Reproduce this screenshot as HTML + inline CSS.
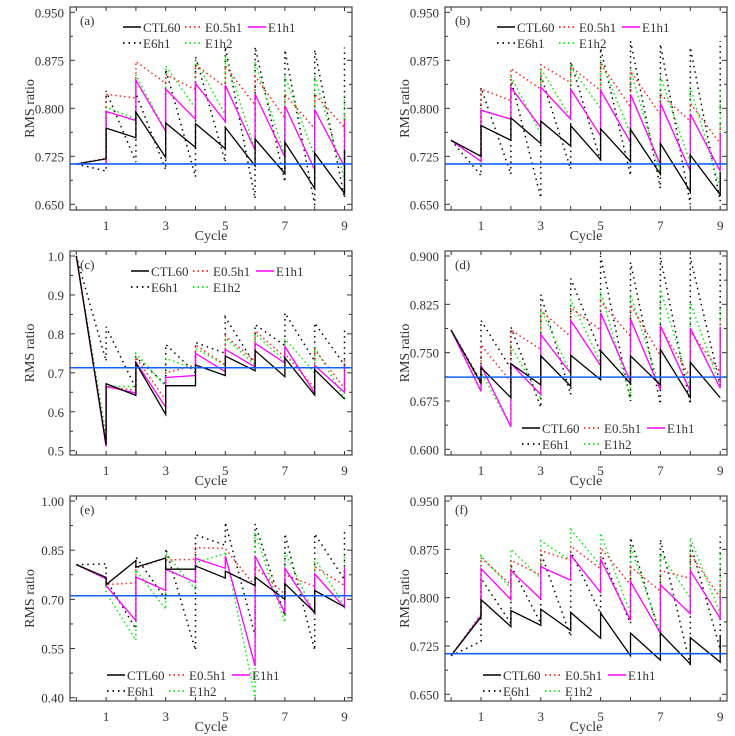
<!DOCTYPE html>
<html><head><meta charset="utf-8"><title>RMS ratio panels</title>
<style>
body{margin:0;background:#fff;}
svg{display:block;font-family:"Liberation Serif",serif;}
text{fill:#333;}
</style></head>
<body>
<svg id="fig" width="735" height="736" viewBox="0 0 735 736"></svg>
<script>
// ---- data (after = value after analysis at cycle k, k=0..9; before = value just before analysis at cycle k+1, k=0..8)
const cycles = [0,1,2,3,4,5,6,7,8,9];
const seriesNames = ["E6h1","E1h2","E0.5h1","E1h1","CTL60"];
const baseline = [0.713,0.713,0.713,0.712,0.711,0.713];

const aCTL60After = [0.713,0.769,0.794,0.777,0.776,0.770,0.752,0.747,0.730,0.735];
const aCTL60Before = [0.721,0.754,0.723,0.739,0.737,0.710,0.698,0.675,0.667];
const aE05After = [0.713,0.822,0.873,0.853,0.868,0.866,0.850,0.822,0.822,0.790];
const aE05Before = [0.722,0.816,0.839,0.829,0.833,0.805,0.785,0.768,0.770];
const aE1h1After = [0.713,0.795,0.844,0.830,0.839,0.836,0.822,0.804,0.798,0.780];
const aE1h1Before = [0.713,0.781,0.764,0.783,0.779,0.735,0.724,0.704,0.709];
const aE1h2After = [0.713,0.802,0.852,0.866,0.875,0.882,0.873,0.850,0.850,0.820];
const aE1h2Before = [0.713,0.783,0.764,0.800,0.790,0.735,0.725,0.725,0.690];
const aE6h1After = [0.713,0.827,0.823,0.861,0.881,0.896,0.896,0.891,0.891,0.895];
const aE6h1Before = [0.702,0.716,0.704,0.693,0.716,0.659,0.685,0.649,0.660];

const bCTL60After = [0.750,0.773,0.785,0.780,0.773,0.768,0.767,0.745,0.727,0.700];
const bCTL60Before = [0.725,0.750,0.745,0.741,0.720,0.717,0.697,0.670,0.665];
const bE05After = [0.750,0.830,0.862,0.868,0.865,0.870,0.858,0.822,0.808,0.780];
const bE05Before = [0.725,0.812,0.830,0.840,0.828,0.802,0.790,0.780,0.745];
const bE1h1After = [0.750,0.797,0.833,0.833,0.830,0.828,0.822,0.808,0.791,0.760];
const bE1h1Before = [0.717,0.783,0.770,0.783,0.757,0.747,0.712,0.702,0.702];
const bE1h2After = [0.750,0.797,0.850,0.862,0.865,0.875,0.860,0.850,0.833,0.830];
const bE1h2Before = [0.717,0.783,0.760,0.785,0.800,0.760,0.700,0.715,0.675];
const bE6h1After = [0.750,0.832,0.846,0.852,0.873,0.894,0.905,0.900,0.895,0.905];
const bE6h1Before = [0.695,0.697,0.660,0.705,0.718,0.695,0.675,0.650,0.655];

const cCTL60After = [1.0,0.672,0.725,0.667,0.720,0.743,0.757,0.738,0.708,0.633];
const cCTL60Before = [0.515,0.642,0.593,0.667,0.693,0.705,0.690,0.643,0.633];
const cE05After = [1.0,0.665,0.740,0.700,0.772,0.795,0.808,0.750,0.760,0.740];
const cE05Before = [0.520,0.655,0.630,0.720,0.720,0.730,0.740,0.660,0.660];
const cE1h1After = [1.0,0.665,0.727,0.688,0.750,0.760,0.776,0.768,0.719,0.720];
const cE1h1Before = [0.510,0.648,0.612,0.693,0.703,0.715,0.725,0.648,0.650];
const cE1h2After = [1.0,0.665,0.750,0.737,0.763,0.790,0.800,0.787,0.765,0.720];
const cE1h2Before = [0.540,0.665,0.665,0.710,0.720,0.720,0.730,0.700,0.635];
const cE6h1After = [1.0,0.818,0.740,0.773,0.778,0.843,0.824,0.854,0.828,0.810];
const cE6h1Before = [0.730,0.660,0.670,0.700,0.750,0.720,0.770,0.730,0.720];

const dCTL60After = [0.785,0.727,0.733,0.745,0.746,0.753,0.745,0.755,0.735,0.680];
const dCTL60Before = [0.703,0.680,0.700,0.698,0.708,0.702,0.700,0.680,0.680];
const dE05After = [0.785,0.762,0.785,0.815,0.820,0.830,0.825,0.790,0.783,0.800];
const dE05Before = [0.700,0.705,0.755,0.775,0.785,0.775,0.745,0.712,0.720];
const dE1h1After = [0.785,0.730,0.733,0.778,0.800,0.812,0.802,0.792,0.788,0.790];
const dE1h1Before = [0.690,0.635,0.685,0.718,0.730,0.705,0.692,0.690,0.695];
const dE1h2After = [0.785,0.720,0.760,0.818,0.832,0.845,0.840,0.848,0.828,0.820];
const dE1h2Before = [0.690,0.635,0.680,0.718,0.735,0.680,0.695,0.695,0.698];
const dE6h1After = [0.785,0.800,0.790,0.840,0.865,0.900,0.890,0.898,0.898,0.895];
const dE6h1Before = [0.705,0.725,0.665,0.685,0.750,0.675,0.670,0.670,0.700];

const eCTL60After = [0.806,0.745,0.798,0.792,0.802,0.786,0.768,0.748,0.727,0.677];
const eCTL60Before = [0.767,0.818,0.826,0.792,0.765,0.742,0.700,0.660,0.677];
const eE05After = [0.806,0.745,0.795,0.820,0.858,0.855,0.800,0.775,0.800,0.790];
const eE05Before = [0.763,0.750,0.826,0.822,0.855,0.740,0.715,0.740,0.742];
const eE1h1After = [0.806,0.742,0.768,0.792,0.825,0.832,0.832,0.795,0.778,0.800];
const eE1h1Before = [0.763,0.635,0.727,0.752,0.795,0.497,0.660,0.658,0.675];
const eE1h2After = [0.806,0.720,0.790,0.840,0.812,0.845,0.905,0.845,0.825,0.840];
const eE1h2Before = [0.763,0.575,0.670,0.730,0.840,0.400,0.630,0.655,0.680];
const eE6h1After = [0.806,0.760,0.830,0.855,0.897,0.935,0.930,0.900,0.900,0.915];
const eE6h1Before = [0.808,0.610,0.700,0.545,0.865,0.590,0.650,0.545,0.760];

const fCTL60After = [0.710,0.797,0.780,0.782,0.777,0.776,0.745,0.745,0.738,0.740];
const fCTL60Before = [0.770,0.755,0.757,0.749,0.737,0.710,0.703,0.697,0.700];
const fE05After = [0.710,0.862,0.858,0.873,0.880,0.878,0.848,0.842,0.868,0.830];
const fE05Before = [0.772,0.820,0.835,0.858,0.845,0.820,0.810,0.830,0.800];
const fE1h1After = [0.710,0.845,0.842,0.848,0.866,0.860,0.825,0.820,0.842,0.800];
const fE1h1Before = [0.772,0.797,0.798,0.827,0.808,0.765,0.745,0.775,0.768];
const fE1h2After = [0.710,0.865,0.875,0.888,0.906,0.900,0.880,0.868,0.893,0.870];
const fE1h2Before = [0.775,0.815,0.830,0.858,0.850,0.775,0.745,0.800,0.775];
const fE6h1After = [0.710,0.830,0.850,0.870,0.872,0.870,0.893,0.890,0.885,0.895];
const fE6h1Before = [0.732,0.760,0.760,0.740,0.775,0.760,0.740,0.695,0.720];

const yTicksABF = ["0.650","0.725","0.800","0.875","0.950"];
const yTicksC = ["0.5","0.6","0.7","0.8","0.9","1.0"];
const yTicksD = ["0.600","0.675","0.750","0.825","0.900"];
const yTicksE = ["0.40","0.55","0.70","0.85","1.00"];
const xTickLabels = ["1","3","5","7","9"];

// ---- layout
const NS = "http://www.w3.org/2000/svg";
const svg = document.getElementById('fig');
function mk(tag, attrs, parent){
  const el = document.createElementNS(NS, tag);
  for (const k in attrs) el.setAttribute(k, attrs[k]);
  (parent||svg).appendChild(el);
  return el;
}
const styles = {
  "CTL60": {stroke:"#000", w:1.3, dash:null},
  "E0.5h1": {stroke:"#ff2020", w:1.5, dash:"1.5,3"},
  "E1h1": {stroke:"#ff00ff", w:1.3, dash:null},
  "E6h1": {stroke:"#000", w:1.5, dash:"1.5,4"},
  "E1h2": {stroke:"#00ee00", w:1.5, dash:"1.5,3"}
};
const panels = [
  {id:"a", L:70, R:352, T:7, B:210, x0:76.3, dx:29.8, vTop:0.950, pTop:12.3, vBot:0.650, pBot:204.3, ticks:yTicksABF, legTop:true, legX:123,
   data:{"CTL60":[aCTL60After,aCTL60Before],"E0.5h1":[aE05After,aE05Before],"E1h1":[aE1h1After,aE1h1Before],"E6h1":[aE6h1After,aE6h1Before],"E1h2":[aE1h2After,aE1h2Before]}},
  {id:"b", L:445, R:727, T:7, B:210, x0:451.1, dx:29.9, vTop:0.950, pTop:12.3, vBot:0.650, pBot:204.3, ticks:yTicksABF, legTop:true, legX:497,
   data:{"CTL60":[bCTL60After,bCTL60Before],"E0.5h1":[bE05After,bE05Before],"E1h1":[bE1h1After,bE1h1Before],"E6h1":[bE6h1After,bE6h1Before],"E1h2":[bE1h2After,bE1h2Before]}},
  {id:"c", L:70, R:352, T:251, B:455, x0:76.3, dx:29.8, vTop:1.0, pTop:256, vBot:0.5, pBot:450.7, ticks:yTicksC, legTop:true, legX:131,
   data:{"CTL60":[cCTL60After,cCTL60Before],"E0.5h1":[cE05After,cE05Before],"E1h1":[cE1h1After,cE1h1Before],"E6h1":[cE6h1After,cE6h1Before],"E1h2":[cE1h2After,cE1h2Before]}},
  {id:"d", L:445, R:727, T:251, B:455, x0:451.1, dx:29.9, vTop:0.900, pTop:256, vBot:0.600, pBot:449.3, ticks:yTicksD, legTop:false, legX:522, legY:428,
   data:{"CTL60":[dCTL60After,dCTL60Before],"E0.5h1":[dE05After,dE05Before],"E1h1":[dE1h1After,dE1h1Before],"E6h1":[dE6h1After,dE6h1Before],"E1h2":[dE1h2After,dE1h2Before]}},
  {id:"e", L:70, R:352, T:496, B:701, x0:76.3, dx:29.8, vTop:1.00, pTop:501, vBot:0.40, pBot:697.7, ticks:yTicksE, legTop:false, legX:107, legY:675,
   data:{"CTL60":[eCTL60After,eCTL60Before],"E0.5h1":[eE05After,eE05Before],"E1h1":[eE1h1After,eE1h1Before],"E6h1":[eE6h1After,eE6h1Before],"E1h2":[eE1h2After,eE1h2Before]}},
  {id:"f", L:445, R:727, T:496, B:701, x0:451.1, dx:29.9, vTop:0.950, pTop:501, vBot:0.650, pBot:694.3, ticks:yTicksABF, legTop:false, legX:483, legY:675,
   data:{"CTL60":[fCTL60After,fCTL60Before],"E0.5h1":[fE05After,fE05Before],"E1h1":[fE1h1After,fE1h1Before],"E6h1":[fE6h1After,fE6h1Before],"E1h2":[fE1h2After,fE1h2Before]}}
];

panels.forEach((p, pi) => {
  const g = mk('g', {});
  
  
  const xs = c => p.x0 + p.dx * c;
  const ys = v => p.pBot + (v - p.vBot) * (p.pTop - p.pBot) / (p.vTop - p.vBot);
  const clipId = 'clip' + p.id;
  const cp = mk('clipPath', {id: clipId}, g);
  mk('rect', {x:p.L, y:p.T, width:p.R-p.L, height:p.B-p.T}, cp);

  // ticks x
  cycles.forEach(c => {
    const x = xs(c);
    const t1 = mk('line', {x1:x, x2:x, y1:p.B, y2:p.B-4, stroke:'#333', 'stroke-width':1}, g);
    
    
    mk('line', {x1:x, x2:x, y1:p.T, y2:p.T+4, stroke:'#333', 'stroke-width':1}, g);
  });
  xTickLabels.forEach(l => {
    const t = mk('text', {x:xs(+l), y:p.B+20, 'text-anchor':'middle', 'font-size':13}, g);
    t.textContent = l;
    
    
  });
  // ticks y
  p.ticks.forEach((l, i) => {
    const v = parseFloat(l), y = ys(v);
    mk('line', {x1:p.L, x2:p.L+5, y1:y, y2:y, stroke:'#333'}, g);
    mk('line', {x1:p.R, x2:p.R-5, y1:y, y2:y, stroke:'#333'}, g);
    if (i < p.ticks.length - 1) {
      const ym = ys(v + (parseFloat(p.ticks[i+1]) - v) / 2);
      mk('line', {x1:p.L, x2:p.L+3, y1:ym, y2:ym, stroke:'#333'}, g);
      mk('line', {x1:p.R, x2:p.R-3, y1:ym, y2:ym, stroke:'#333'}, g);
    }
    const t = mk('text', {x:p.L-6, y:y+5, 'text-anchor':'end', 'font-size':13}, g);
    t.textContent = l;
    
    
  });
  // axis titles
  const yt = mk('text', {x:0, y:0, 'text-anchor':'middle', 'font-size':14, transform:`translate(${p.L-36},${(p.T+p.B)/2}) rotate(-90)`}, g);
  yt.textContent = 'RMS ratio';
  
  
  const xt = mk('text', {x:(p.L+p.R)/2, y:p.B+30, 'text-anchor':'middle', 'font-size':14}, g);
  xt.textContent = 'Cycle';
  
  
  const pl = mk('text', {x:p.L+10, y:p.T+18, 'font-size':13}, g);
  pl.textContent = '(' + p.id + ')';
  
  

  // series
  const sg = mk('g', {'clip-path':`url(#${clipId})`}, g);
  seriesNames.forEach(name => {
    const [after, before] = p.data[name];
    const pts = [];
    for (let k = 0; k < before.length; k++) {
      pts.push(xs(k) + ',' + ys(after[k]));
      pts.push(xs(k+1) + ',' + ys(before[k]));
    }
    pts.push(xs(after.length-1) + ',' + ys(after[after.length-1]));
    const st = styles[name];
    const a = {points:pts.join(' '), fill:'none', stroke:st.stroke, 'stroke-width':st.w};
    if (st.dash) a['stroke-dasharray'] = st.dash;
    const line = mk('polyline', a, sg);
    
    
  });
  const bl = mk('line', {x1:p.L, x2:p.R, y1:ys(baseline[pi]), y2:ys(baseline[pi]), stroke:'#1060ff', 'stroke-width':1.6}, g);
  
  

  // frame
  const fr = mk('rect', {x:p.L, y:p.T, width:p.R-p.L, height:p.B-p.T, fill:'none', stroke:'#444', 'stroke-width':1.2}, g);
  
  

  // legend
  const ly = p.legTop ? p.T + 20 : p.legY;
  const lx = p.legX;
  const items = [["CTL60",0,0],["E0.5h1",62,0],["E1h1",125,0],["E6h1",0,16],["E1h2",62,16]];
  const lg = mk('g', {}, g);
  
  
  items.forEach(([name, dx, dy]) => {
    const st = styles[name];
    const a = {x1:lx+dx, x2:lx+dx+18, y1:ly+dy, y2:ly+dy, stroke:st.stroke, 'stroke-width':st.w+0.2};
    if (st.dash) a['stroke-dasharray'] = st.dash;
    mk('line', a, lg);
    const t = mk('text', {x:lx+dx+20, y:ly+dy+5, 'font-size':13}, lg);
    t.textContent = name;
    
    
  });
});
</script>
</body></html>
